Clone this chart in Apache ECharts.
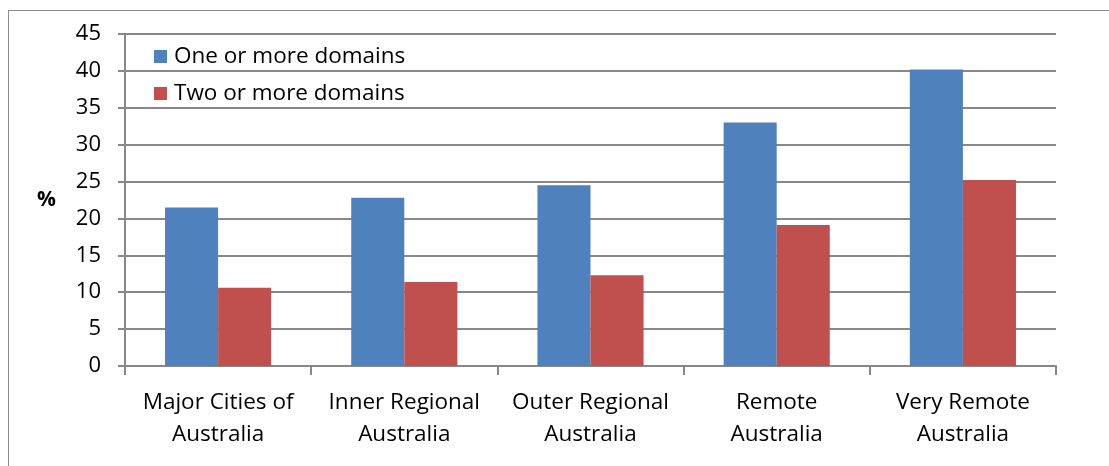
<!DOCTYPE html>
<html>
<head>
<meta charset="utf-8">
<script src="https://cdn.jsdelivr.net/npm/echarts@6/dist/echarts.min.js"></script>
<style>
html,body{margin:0;padding:0;background:#fff;}
#frame{position:absolute;left:8px;top:10px;width:1120px;height:480px;border:1.5px solid #8a8a8a;box-sizing:border-box;}
#chart{position:absolute;left:0;top:0;width:1109px;height:466px;}
</style>
</head>
<body>
<div id="frame"></div>
<div id="chart"></div>
<script>
const categories = ['Major Cities of\nAustralia', 'Inner Regional\nAustralia', 'Outer Regional\nAustralia', 'Remote\nAustralia', 'Very Remote\nAustralia'];
const seriesNames = ['One or more domains', 'Two or more domains'];
const oneOrMore = [21.5, 22.8, 24.5, 33.0, 40.2];
const twoOrMore = [10.6, 11.4, 12.3, 19.1, 25.2];
const yTicks = { min: 0, max: 45, interval: 5 };
const yLabel = '%';

const FONT = 'Open Sans';
const FS = 22.5;
const chart = echarts.init(document.getElementById('chart'), null, { renderer: 'canvas' });
chart.setOption({
  animation: false,
  backgroundColor: 'transparent',
  grid: { left: 125, right: 53, top: 34, bottom: 100, containLabel: false },
  legend: {
    orient: 'vertical',
    left: 149, top: 40,
    itemWidth: 13, itemHeight: 13, itemGap: 14,
    icon: 'rect',
    textStyle: { fontFamily: FONT, fontSize: FS, color: '#000', padding: [0, 0, 0, 2] },
    data: seriesNames
  },
  graphic: [{
    type: 'text', left: 37, top: 190,
    style: { text: yLabel, font: 'bold 21px ' + FONT, fill: '#000' }
  }],
  xAxis: {
    type: 'category',
    data: categories,
    axisLine: { lineStyle: { color: '#888', width: 2 } },
    axisTick: { show: true, length: 9, lineStyle: { color: '#888', width: 2 }, alignWithLabel: false },
    axisLabel: { fontFamily: FONT, fontSize: FS, color: '#000', margin: 21, lineHeight: 32, interval: 0 }
  },
  yAxis: {
    type: 'value',
    min: yTicks.min, max: yTicks.max, interval: yTicks.interval,
    axisLine: { show: true, lineStyle: { color: '#888', width: 2 } },
    axisTick: { show: true, length: 7, lineStyle: { color: '#888', width: 2 } },
    splitLine: { lineStyle: { color: '#888', width: 2 } },
    axisLabel: { fontFamily: FONT, fontSize: 22, color: '#000', margin: 24 }
  },
  series: [
    { name: seriesNames[0], type: 'bar', data: oneOrMore, barGap: '0%', barCategoryGap: '43%',
      itemStyle: { color: '#4F81BD' } },
    { name: seriesNames[1], type: 'bar', data: twoOrMore, barGap: '0%', barCategoryGap: '43%',
      itemStyle: { color: '#C0504D' } }
  ]
});
</script>
</body>
</html>
